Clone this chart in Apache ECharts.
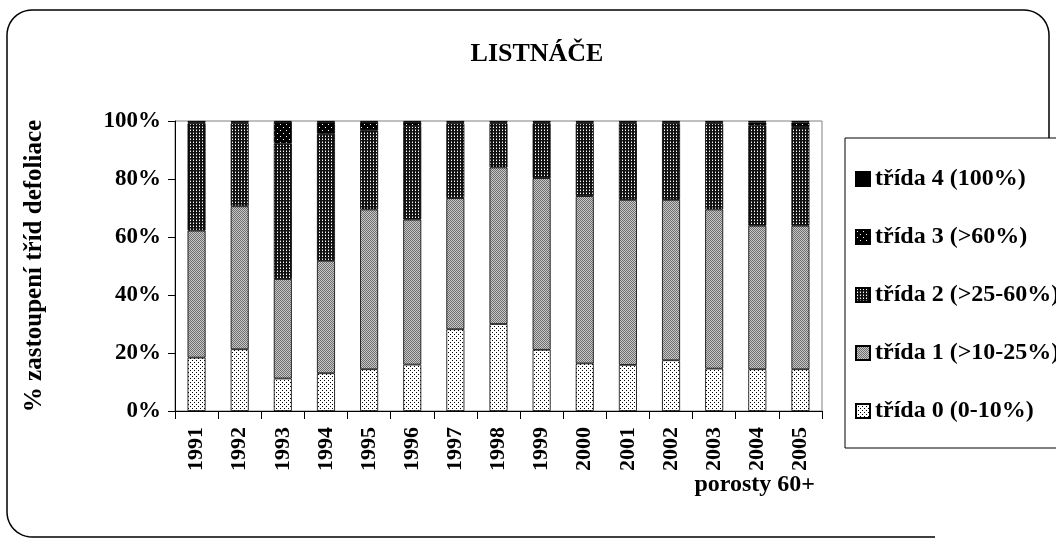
<!DOCTYPE html>
<html>
<head>
<meta charset="utf-8">
<script src="https://cdn.jsdelivr.net/npm/echarts@6/dist/echarts.min.js"></script>
<style>
  html, body { margin: 0; padding: 0; background: #fff; }
  #chart { width: 1056px; height: 544px; }
</style>
</head>
<body>
<div id="chart"></div>
<script>
// roky
const years = ['1991', '1992', '1993', '1994', '1995', '1996', '1997', '1998',
  '1999', '2000', '2001', '2002', '2003', '2004', '2005'];

// podíly tříd defoliace v %
const trida0 = [18.4, 21.3, 11.2, 13.0, 14.4, 16.0, 28.2, 30.0, 21.1, 16.4, 15.9, 17.5, 14.6, 14.4, 14.4];
const trida1 = [43.8, 49.3, 34.3, 38.8, 55.1, 50.0, 45.2, 54.0, 59.2, 57.7, 56.9, 55.3, 54.9, 49.5, 49.5];
const trida2 = [37.0, 28.6, 46.7, 43.8, 27.3, 32.3, 25.8, 15.2, 18.9, 25.1, 26.4, 26.4, 29.7, 34.6, 34.0];
const trida3 = [0.3, 0.3, 7.5, 4.0, 2.8, 1.3, 0.3, 0.3, 0.3, 0.3, 0.3, 0.3, 0.3, 1.0, 1.6];
const trida4 = [0.5, 0.5, 0.3, 0.4, 0.4, 0.4, 0.5, 0.5, 0.5, 0.5, 0.5, 0.5, 0.5, 0.5, 0.5];

const names = ['třída 0 (0-10%)', 'třída 1 (>10-25%)', 'třída 2 (>25-60%)', 'třída 3 (>60%)', 'třída 4 (100%)'];
const yTicks = [0, 20, 40, 60, 80, 100];

const FONT = "'Liberation Serif', 'Times New Roman', serif";

// vzory výplní (jako v Excelu)
function pattern(size, bg, dots) {
  const c = document.createElement('canvas');
  c.width = size; c.height = size;
  const ctx = c.getContext('2d');
  ctx.fillStyle = bg;
  ctx.fillRect(0, 0, size, size);
  dots.forEach(d => {
    ctx.fillStyle = d[2];
    ctx.fillRect(d[0], d[1], 1, 1);
  });
  return { image: c, repeat: 'repeat' };
}

const fills = [
  pattern(4, '#ffffff', [[0, 0, '#000'], [2, 2, '#000']]),
  pattern(2, '#6e6e6e', [[1, 0, '#c8c8c8'], [0, 1, '#c8c8c8']]),
  pattern(3, '#111111', [[1, 1, '#ffffff'], [1, 0, '#777777']]),
  pattern(6, '#000000', [[1, 1, '#ffffff'], [4, 4, '#ffffff']]),
  '#000000'
];

const seriesData = [trida0, trida1, trida2, trida3, trida4];

// body rohu rámečku (čtvrtkruh)
function corner(cx, cy, r, a0, a1) {
  const pts = [];
  for (let k = 0; k <= 12; k++) {
    const a = (a0 + (a1 - a0) * k / 12) * Math.PI / 180;
    pts.push([cx + r * Math.cos(a), cy + r * Math.sin(a)]);
  }
  return pts;
}
const R = 25;
const framePts = [[935, 537]]
  .concat(corner(7 + R, 537 - R, R, 90, 180))
  .concat(corner(7 + R, 10 + R, R, 180, 270))
  .concat(corner(1049 - R, 10 + R, R, 270, 360))
  .concat([[1049, 140]]);

const chart = echarts.init(document.getElementById('chart'));

const option = {
  animation: false,
  backgroundColor: '#fff',
  title: {
    text: 'LISTNÁČE',
    left: 532,
    top: 36,
    textAlign: 'center',
    textStyle: { fontFamily: FONT, fontSize: 26, fontWeight: 'bold', color: '#000' }
  },
  legend: {
    orient: 'vertical',
    left: 845,
    top: 138,
    data: names.slice().reverse(),
    selectedMode: false,
    icon: 'rect',
    itemWidth: 14,
    itemHeight: 14,
    itemGap: 34,
    padding: [29, 10, 25, 10],
    borderColor: '#000',
    borderWidth: 1,
    backgroundColor: '#fff',
    textStyle: { fontFamily: FONT, fontSize: 24, fontWeight: 'bold', color: '#000' }
  },
  grid: {
    left: 175,
    right: 234,
    top: 121,
    bottom: 133,
    show: true,
    borderColor: '#808080',
    borderWidth: 1
  },
  xAxis: {
    type: 'category',
    data: years,
    boundaryGap: true,
    axisLine: { lineStyle: { color: '#000', width: 1 } },
    axisTick: { show: true, length: 8, lineStyle: { color: '#000' } },
    axisLabel: {
      rotate: 90,
      margin: 16,
      fontFamily: FONT,
      fontSize: 22,
      fontWeight: 'bold',
      color: '#000'
    }
  },
  yAxis: {
    type: 'value',
    min: yTicks[0],
    max: yTicks[yTicks.length - 1],
    interval: 20,
    name: '% zastoupení tříd defoliace',
    nameLocation: 'middle',
    nameRotate: 90,
    nameGap: 128,
    nameTextStyle: { fontFamily: FONT, fontSize: 25, fontWeight: 'bold', color: '#000' },
    axisLine: { show: true, lineStyle: { color: '#000', width: 1 } },
    axisTick: { show: true, length: 7, lineStyle: { color: '#000' } },
    splitLine: { show: false },
    axisLabel: {
      formatter: '{value}%',
      margin: 14,
      fontFamily: FONT,
      fontSize: 23,
      fontWeight: 'bold',
      color: '#000'
    }
  },
  graphic: [
    {
      // rámeček kolem grafu (vpravo dole oříznutý)
      type: 'polyline',
      shape: { points: framePts },
      style: { fill: null, stroke: '#000', lineWidth: 1.5 },
      z: -10
    },
    {
      type: 'text',
      x: 815,
      y: 485,
      style: {
        text: 'porosty 60+',
        align: 'right',
        verticalAlign: 'middle',
        fontFamily: FONT,
        fontSize: 24,
        fontWeight: 'bold',
        fill: '#000'
      }
    }
  ],
  series: seriesData.map((d, i) => ({
    name: names[i],
    type: 'bar',
    stack: 'total',
    barWidth: 18,
    data: d,
    itemStyle: { color: fills[i], borderColor: '#000', borderWidth: 0.8 }
  }))
};

chart.setOption(option);

window.addEventListener('resize', () => {
  chart.resize();
});
</script>
</body>
</html>
